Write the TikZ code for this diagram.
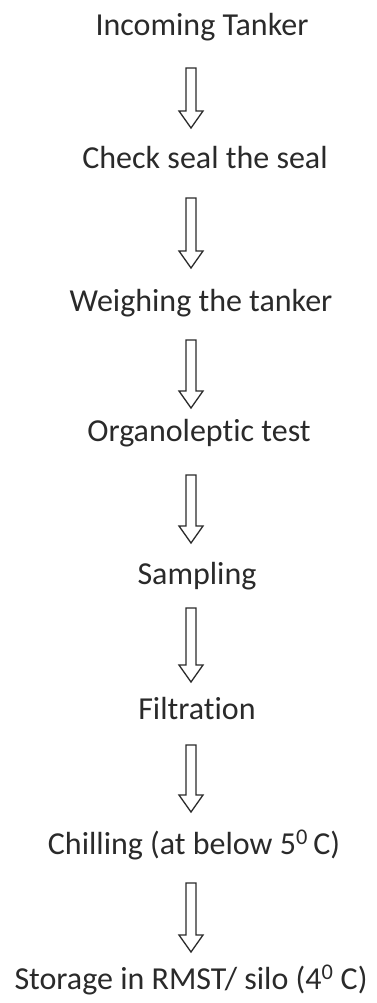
\documentclass[tikz,border=0pt]{standalone}
\usepackage{fontspec}
\setmainfont[Ligatures=NoCommon]{Carlito}
\usetikzlibrary{calc}
\definecolor{ink}{HTML}{2A2A2A}
\tikzset{
  stepnode/.style={font=\fontsize{32}{36}\selectfont, text=ink, inner sep=0pt, anchor=base},
  blockarrow/.style={draw=ink, line width=1.3pt, line join=miter,
    to path={let \p1=(\tikztostart), \p2=(\tikztotarget) in
      (191pt-5pt,\y1) -- (191pt+5pt,\y1) -- (191pt+5pt,\y2+17pt) -- (191pt+12pt,\y2+17pt)
      -- (191pt,\y2) -- (191pt-12pt,\y2+17pt) -- (191pt-5pt,\y2+17pt) -- cycle}}
}
\begin{document}
\begin{tikzpicture}[x=1pt,y=-1pt]
\useasboundingbox[fill=white] (0,0) rectangle (376,1003);
\node[stepnode] (n1) at (202,36) {Incoming Tanker};
\node[stepnode] (n2) at (205,169) {Check seal the seal};
\node[stepnode] (n3) at (201,311) {Weighing the tanker};
\node[stepnode] (n4) at (199,441) {Organoleptic test};
\node[stepnode] (n5) at (197,584) {Sampling};
\node[stepnode] (n6) at (197,719) {Filtration};
\node[stepnode] (n7) at (194,854) {Chilling (at below 5\textsuperscript{0}\,C)};
\node[stepnode] (n8) at (191,989) {Storage in RMST/ silo (4\textsuperscript{0} C)};
\draw[blockarrow] ([yshift=-32pt]n1.base) to ([yshift=41pt]n2.base);
\draw[blockarrow] ([yshift=-29pt]n2.base) to ([yshift=43pt]n3.base);
\draw[blockarrow] ([yshift=-29pt]n3.base) to ([yshift=33pt]n4.base);
\draw[blockarrow] ([yshift=-34pt]n4.base) to ([yshift=41pt]n5.base);
\draw[blockarrow] ([yshift=-24pt]n5.base) to ([yshift=37pt]n6.base);
\draw[blockarrow] ([yshift=-26pt]n6.base) to ([yshift=42pt]n7.base);
\draw[blockarrow] ([yshift=-29pt]n7.base) to ([yshift=37pt]n8.base);
\end{tikzpicture}
\end{document}
